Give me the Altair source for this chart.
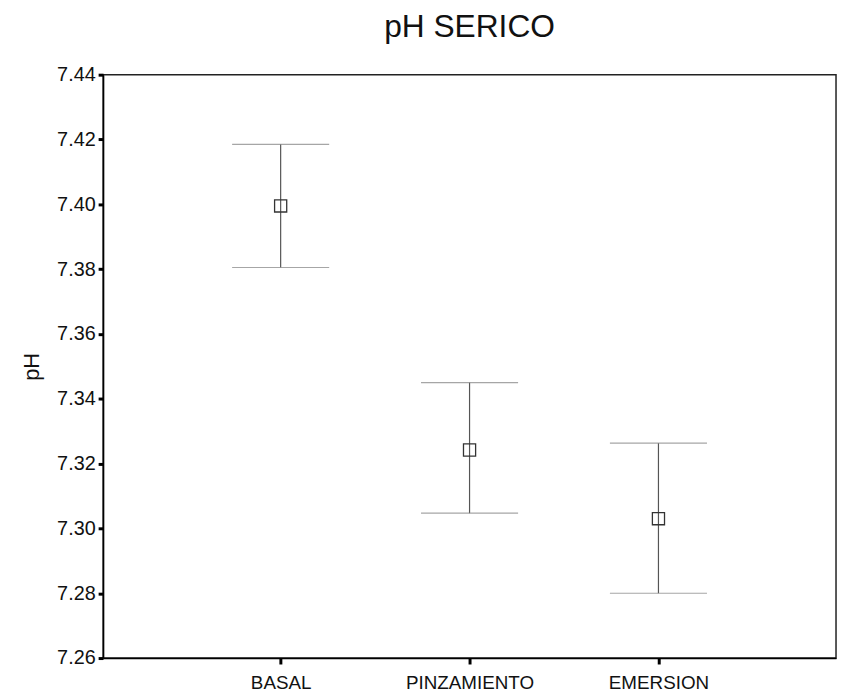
import altair as alt
import pandas as pd

groups = ["BASAL", "PINZAMIENTO", "EMERSION"]
means = [7.3995, 7.3242, 7.3030]
upper = [7.4185, 7.3450, 7.3263]
lower = [7.3805, 7.3047, 7.2800]
y_ticks = [7.26, 7.28, 7.30, 7.32, 7.34, 7.36, 7.38, 7.40, 7.42, 7.44]

df = pd.DataFrame({"grupo": groups, "media": means, "sup": upper, "inf": lower})

x = alt.X("grupo:N", sort=groups, title=None,
          scale=alt.Scale(type="point", padding=0.94),
          axis=alt.Axis(labelAngle=0, labelFontSize=19, labelFont="Liberation Sans",
                        labelColor="#111111", tickSize=6, tickWidth=3, tickColor="black",
                        domainColor="black", domainWidth=1.5, labelPadding=10))
yscale = alt.Scale(domain=[7.26, 7.44], nice=False, zero=False)
yaxis = alt.Axis(values=y_ticks, format=".2f", title="pH", titleFontSize=22,
                 titleFont="Liberation Sans", titleFontWeight="normal", titleColor="#111111",
                 titlePadding=13, labelFontSize=20, labelFont="Liberation Sans",
                 labelColor="#111111", tickSize=5, tickWidth=3, tickColor="black",
                 domainColor="black", domainWidth=1.5, labelPadding=3, grid=False)

base = alt.Chart(df)

rule = base.mark_rule(color="#555555", strokeWidth=1.2).encode(
    x=x, y=alt.Y("inf:Q", scale=yscale, axis=yaxis), y2="sup:Q")
cap_top = base.mark_tick(orient="horizontal", size=98, thickness=1.2, color="#808080").encode(
    x=x, y=alt.Y("sup:Q", scale=yscale))
cap_bot = base.mark_tick(orient="horizontal", size=98, thickness=1.2, color="#808080").encode(
    x=x, y=alt.Y("inf:Q", scale=yscale))
pts = base.mark_point(shape="square", filled=False, size=150, strokeWidth=1.3,
                      color="#333333", opacity=1).encode(
    x=x, y=alt.Y("media:Q", scale=yscale))

chart = (rule + cap_top + cap_bot + pts).properties(
    width=740, height=589,
    title=alt.TitleParams("pH SERICO", fontSize=32, font="Liberation Sans",
                          fontWeight="normal", color="#111111", offset=21),
    autosize=alt.AutoSizeParams(type="none"),
    padding={"left": 96, "top": 64, "right": 2, "bottom": 36},
    background="white",
).configure_view(stroke="#222222", strokeWidth=1.5)

chart.save("out.html", embed_options={"renderer": "svg", "actions": False})
